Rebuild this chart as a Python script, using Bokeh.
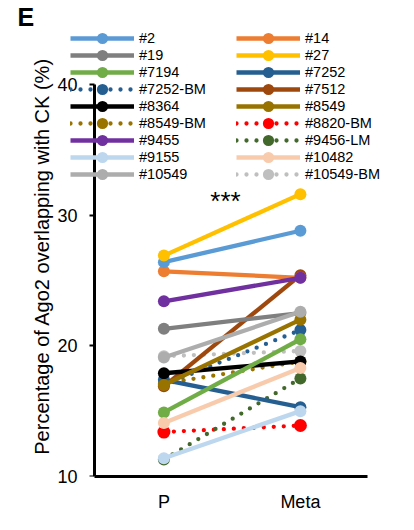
from bokeh.plotting import figure
from bokeh.models import Legend, LegendItem, Label, FixedTicker, LinearAxis, Title
from bokeh.embed import file_html
from bokeh.resources import INLINE

# ---------------- data ----------------
groups = ["P", "Meta"]
group_x = [0, 1]

samples = ["#2", "#19", "#7194", "#7252-BM", "#8364", "#8549-BM", "#9455", "#9155", "#10549",
           "#14", "#27", "#7252", "#7512", "#8549", "#8820-BM", "#9456-LM", "#10482", "#10549-BM"]
p_values = [26.4, 21.3, 14.9, 17.0, 17.9, 17.1, 23.4, 11.4, 19.1,
            25.7, 26.9, 17.4, 16.9, 17.0, 13.4, 11.3, 14.1, 19.2]
meta_values = [28.8, 22.5, 20.5, 21.2, 18.8, 18.8, 25.2, 15.0, 22.6,
               25.2, 31.6, 15.3, 25.4, 22.0, 13.9, 17.5, 18.3, 19.6]

y_ticks = [10, 20, 30, 40]
y_label = "Percentage of Ago2 overlapping with CK  (%)"
panel_label = "E"
sig_text = "***"
sig_x = 0.451
sig_y = 31.1

# ---------------- styles ----------------
colors = ["#5B9BD5", "#7F7F7F", "#70AD47", "#255E91", "#000000", "#997300", "#7030A0", "#BDD7EE", "#ADADAD",
          "#ED7D31", "#FFC000", "#255E91", "#9E480E", "#997300", "#FF0000", "#43682B", "#F8CBAD", "#BFBFBF"]
dotted = [False, False, False, True, False, True, False, False, False,
          False, False, False, False, False, True, True, False, True]
draw_order = [3, 5, 14, 15, 17, 12, 9, 11, 1, 4, 2, 16, 13, 8, 6, 0, 10, 7]

FONT = "Liberation Sans"

Y_AXIS_X = -0.507   # where the y axis line crosses the x scale
X_END = 1.4916      # right end of the drawn x axis line

p = figure(width=398, height=514, output_backend="svg", toolbar_location=None,
           x_range=(-0.6842, 1.6015), y_range=(10, 44.12),
           min_border_left=70, min_border_right=16, min_border_top=30, min_border_bottom=37)
p.outline_line_color = None
p.grid.visible = False

# panel letter as title
p.title.text = panel_label
p.title.align = "left"
p.title.offset = -53
p.title.standoff = 0
p.title.text_font = FONT
p.title.text_font_size = "25px"
p.title.text_font_style = "bold"
p.title.text_color = "black"

# y axis: tick labels (regular axis in the left panel, next to the frame)
yax = p.yaxis[0]
yax.ticker = FixedTicker(ticks=y_ticks)
yax.axis_line_color = None
yax.major_tick_line_color = None
yax.major_tick_out = 0
yax.major_tick_in = 0
yax.minor_tick_line_color = None
yax.major_label_standoff = -7
yax.major_label_text_font = FONT
yax.major_label_text_font_size = "18px"
yax.major_label_text_color = "black"

# y axis: line + ticks at its crossing position (labels not painted)
yline = LinearAxis(fixed_location=Y_AXIS_X, ticker=FixedTicker(ticks=y_ticks), bounds=(10, 40),
                   axis_line_width=3, axis_line_color="black",
                   major_tick_line_width=2, major_tick_line_color="black",
                   major_tick_out=5, major_tick_in=0, minor_tick_line_color=None,
                   major_label_text_font_size="1px", major_label_text_color=None,
                   major_label_standoff=0)
p.add_layout(yline, "left")

# y axis title
ytitle = Title(text=y_label, align="center", offset=-24, standoff=4,
               text_font=FONT, text_font_size="20px", text_font_style="normal", text_color="black")
p.add_layout(ytitle, "left")

# x axis
xax = p.xaxis[0]
xax.bounds = (Y_AXIS_X, X_END)
xax.ticker = FixedTicker(ticks=group_x)
xax.major_label_overrides = {gx: g for gx, g in zip(group_x, groups)}
xax.axis_line_width = 3
xax.major_tick_line_color = None
xax.major_tick_out = 0
xax.major_tick_in = 0
xax.minor_tick_line_color = None
xax.major_label_standoff = 15
xax.major_label_text_font = FONT
xax.major_label_text_font_size = "18px"
xax.major_label_text_color = "black"

renderers = {}
for i in draw_order:
    ys = [p_values[i], meta_values[i]]
    if dotted[i]:
        ln = p.line(group_x, ys, line_color=colors[i], line_width=4.3, line_dash="0 10", line_cap="round")
    else:
        ln = p.line(group_x, ys, line_color=colors[i], line_width=4.3)
    d = 13 if samples[i] == "#8820-BM" else 12
    mk = p.ellipse(group_x, ys, width=d, height=d, width_units="screen", height_units="screen",
                   fill_color=colors[i], line_color=colors[i], line_width=0)
    renderers[i] = [ln, mk]

def make_legend(idx, vx, vy):
    items = [LegendItem(label=samples[i], renderers=renderers[i]) for i in idx]
    return Legend(items=items, location=(vx, vy), orientation="vertical",
                  glyph_width=64, glyph_height=14, label_height=17, spacing=0,
                  padding=0, margin=0, label_standoff=5,
                  label_text_font=FONT, label_text_font_size="14.5px", label_text_color="black",
                  background_fill_alpha=0, border_line_alpha=0)

p.add_layout(make_legend(list(range(0, 9)), 0, 294))
p.add_layout(make_legend(list(range(9, 18)), 166, 294))

p.add_layout(Label(x=sig_x, y=sig_y, text=sig_text, text_align="center", text_baseline="alphabetic",
                   text_font=FONT, text_font_size="26px", text_color="black"))

open("out.html", "w").write(file_html(p, INLINE))
